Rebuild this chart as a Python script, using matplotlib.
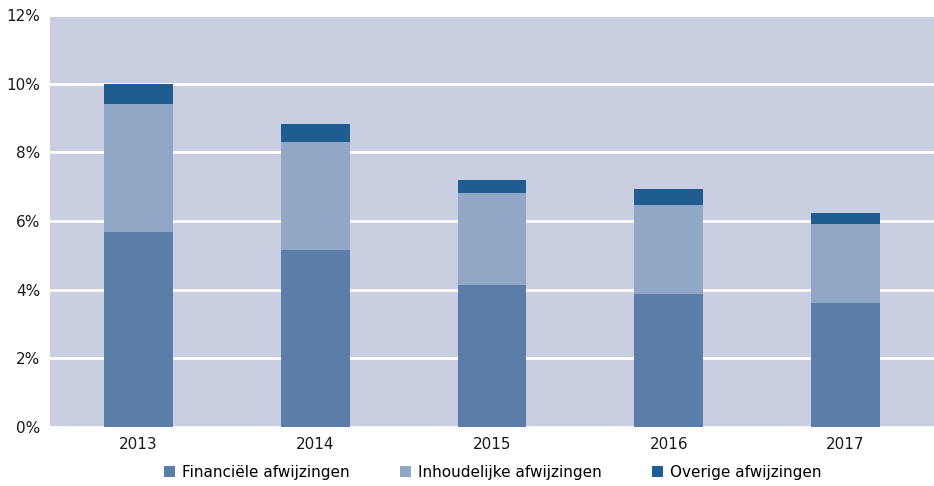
import matplotlib
matplotlib.use('Agg')
import matplotlib.pyplot as plt
import numpy as np

years = ['2013', '2014', '2015', '2016', '2017']
financieel = [5.68, 5.16, 4.14, 3.87, 3.61]
inhoudelijk = [3.73, 3.14, 2.68, 2.60, 2.30]
overige = [0.58, 0.53, 0.37, 0.46, 0.32]

plt.rcParams['font.family'] = ['DejaVu Sans Condensed', 'DejaVu Sans']


def main():
    fig = plt.figure(figsize=(9.34, 4.86), dpi=100)
    ax = fig.add_axes([50 / 934, 1 - 427 / 486, 884 / 934, 412 / 486])
    ax.set_facecolor('#c9cfe1')

    x = np.arange(len(years))
    w = 0.39
    fin = np.array(financieel)
    inh = np.array(inhoudelijk)
    ax.bar(x, fin, w, color='#5b7ea8', label='Financiële afwijzingen', zorder=3)
    ax.bar(x, inh, w, bottom=fin, color='#91a7c6', label='Inhoudelijke afwijzingen', zorder=3)
    ax.bar(x, overige, w, bottom=fin + inh, color='#1f5c8f', label='Overige afwijzingen', zorder=3)

    ax.set_xlim(-0.5, len(years) - 0.5)
    ax.set_ylim(0, 12)
    ax.set_yticks(range(0, 13, 2))
    ax.set_yticklabels([f'{v}%' for v in range(0, 13, 2)])
    ax.set_xticks(x)
    ax.set_xticklabels(years)
    ax.grid(axis='y', color='white', linewidth=2, zorder=1)
    ax.tick_params(length=0, labelsize=11, colors='#1a1a1a')
    ax.tick_params(axis='x', pad=7)
    ax.tick_params(axis='y', pad=7)
    for s in ax.spines.values():
        s.set_visible(False)

    fig.legend(loc='center', bbox_to_anchor=(493 / 934, 1 - 472 / 486), ncol=3, frameon=False,
               fontsize=11, handlelength=0.72, handleheight=0.72, handletextpad=0.46,
               columnspacing=3.3)
    fig.savefig('out.png', dpi=100)


if __name__ == '__main__':
    main()
